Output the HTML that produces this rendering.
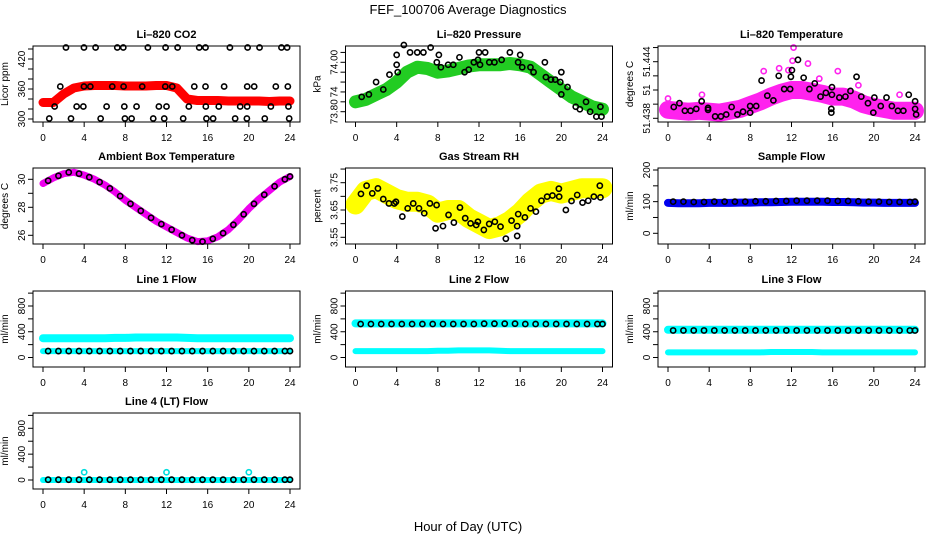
<!DOCTYPE html>
<html><head><meta charset="utf-8"><style>
body{margin:0;background:#fff}
svg{display:block;font-family:"Liberation Sans",sans-serif}
</style></head><body>
<svg id="chart" width="936" height="540" viewBox="0 0 936 540" xmlns="http://www.w3.org/2000/svg">
<rect width="936" height="540" fill="#fff"/>
<text x="468" y="14" font-size="13" text-anchor="middle">FEF_100706  Average Diagnostics</text>
<text x="468" y="531" font-size="13" text-anchor="middle">Hour of Day (UTC)</text>
</svg>
<script>
// ---------- data ----------
const hours = [0,1,2,3,4,5,6,7,8,9,10,11,12,13,14,15,16,17,18,19,20,21,22,23,24];
const halfHours = [0.5,1.5,2.5,3.5,4.5,5.5,6.5,7.5,8.5,9.5,10.5,11.5,12.5,13.5,14.5,15.5,16.5,17.5,18.5,19.5,20.5,21.5,22.5,23.5,24];
const xTicks = [0,4,8,12,16,20,24];

const co2Red = [333,333,350,362,366,367,367,367,366,366,366,367,367,362,340,337,337,337,336,336,336,336,335,336,336];
const co2BlackX = [2.23,3.98,5.11,7.22,7.8,10.19,11.91,13.08,15.18,15.79,18.16,19.88,21.04,23.17,23.72,
 1.68,3.98,4.6,6.73,7.83,9.64,11.88,12.56,14.7,15.79,17.6,19.84,20.52,22.62,23.79,
 1.13,3.27,3.92,6.18,7.9,9.09,11.26,12.0,14.17,15.82,17.08,19.16,19.84,22.14,23.85,
 0.61,2.72,5.6,7.96,8.61,10.71,11.78,13.62,15.88,16.53,18.67,19.81,21.55,23.92];
const co2BlackY = [443,443,443,443,443,443,443,443,443,443,443,443,443,443,443,
 365,365,365,365,365,365,365,365,365,365,365,365,365,365,365,
 325,325,325,325,325,325,325,325,325,325,325,325,325,325,325,
 301,301,301,301,301,301,301,301,301,301,301,301,301,301];

const presGreen = [73.84,73.85,73.87,73.89,73.92,73.96,73.98,73.975,73.96,73.965,73.975,73.985,73.99,73.99,73.99,73.995,73.99,73.98,73.95,73.92,73.89,73.86,73.84,73.82,73.81];
const presBlackX = [0.6,1.3,2,2.7,3.3,4,4,4.1,4.7,5.3,6,6.6,7.3,7.9,8.1,8.3,9,9.5,10.1,10.6,11,11.5,11.9,12,12.1,12.6,13,13.5,14.2,15,15.8,16,16.2,17,17.3,18.4,18.5,19,19.4,19.9,20,20,20.6,21.4,21.8,22.4,22.8,23.4,23.8,23.9];
const presBlackY = [73.86,73.87,73.92,73.89,73.95,74.03,73.99,73.96,74.07,74.04,74.04,74.04,74.06,74.00,74.03,73.98,73.99,73.99,74.02,73.96,73.97,74.00,74.01,74.04,73.99,74.04,74.00,74.00,74.01,74.04,74.00,74.03,73.98,73.98,73.96,74.00,73.94,73.93,73.93,73.92,73.96,73.87,73.90,73.82,73.81,73.84,73.80,73.78,73.82,73.78];

const tempPink = [51.4389,51.4388,51.4387,51.4388,51.4387,51.4386,51.4388,51.4390,51.4394,51.4398,51.4403,51.4407,51.4410,51.4410,51.4408,51.4406,51.4403,51.4403,51.4400,51.4395,51.4392,51.4390,51.4388,51.4388,51.4388];
const tempPinkOutX = [12.2,12.1,13.6,9.3,16.5,11.7,14.7,18.5,0,3.3,22.5,10.8];
const tempPinkOutY = [51.4455,51.4441,51.4438,51.4430,51.4430,51.4431,51.4422,51.4415,51.4401,51.4405,51.4405,51.4433];
const tempBlackX = [0.56,1.11,1.64,2.19,2.75,3.27,3.89,3.89,4.58,5.14,5.66,6.18,6.74,7.29,7.98,7.98,8.57,9.09,9.65,10.24,10.76,11.29,11.87,11.94,12.04,12.63,13.18,13.74,14.26,14.82,15.34,15.93,15.93,15.87,15.87,16.65,17.24,17.73,18.32,18.78,19.43,19.95,20.05,20.67,21.23,21.75,22.34,22.87,23.39,24.01,24.01,24.11];
const tempBlackY = [51.4392,51.4396,51.4388,51.4388,51.4390,51.4398,51.4389,51.4391,51.4382,51.4382,51.4384,51.4392,51.4384,51.4387,51.4393,51.4386,51.4393,51.4420,51.4404,51.4399,51.4425,51.4411,51.4411,51.4424,51.4431,51.4442,51.4423,51.4411,51.4417,51.4403,51.4407,51.4413,51.4405,51.4390,51.4386,51.4402,51.4403,51.4409,51.4424,51.4403,51.4396,51.4386,51.4402,51.4393,51.4402,51.4393,51.4388,51.4388,51.4405,51.4398,51.4390,51.4384];

const ambMagenta = [29.7,30.1,30.4,30.5,30.3,30.0,29.6,29.1,28.5,28.0,27.5,27.0,26.6,26.2,25.8,25.55,25.6,25.9,26.4,27.1,27.9,28.6,29.2,29.8,30.2];
const ambBlack = [29.9,30.25,30.5,30.4,30.15,29.8,29.35,28.8,28.25,27.75,27.25,26.8,26.4,26.0,25.65,25.55,25.75,26.15,26.75,27.5,28.25,28.9,29.5,30.0,30.2];

const rhYellow = [3.67,3.72,3.73,3.71,3.69,3.68,3.68,3.67,3.64,3.65,3.65,3.62,3.60,3.58,3.59,3.61,3.64,3.68,3.71,3.72,3.71,3.72,3.73,3.73,3.73];
const rhBlackX = [0.53,1.08,1.63,2.18,2.7,3.25,3.77,3.93,4.55,5.07,5.61,6.17,6.68,7.23,7.78,7.88,8.5,9.04,9.56,10.15,10.66,11.18,11.73,11.89,12.47,12.99,13.54,14.09,14.61,15.16,15.71,15.71,15.81,16.46,17.01,17.53,18.07,18.62,19.14,19.76,19.79,20.44,20.99,21.54,22.06,22.61,23.16,23.74,23.8];
const rhBlackY = [3.709,3.739,3.711,3.729,3.690,3.674,3.674,3.680,3.626,3.656,3.674,3.656,3.638,3.674,3.583,3.668,3.591,3.632,3.604,3.659,3.620,3.601,3.595,3.607,3.577,3.599,3.607,3.589,3.545,3.611,3.591,3.555,3.635,3.623,3.656,3.644,3.684,3.699,3.703,3.728,3.699,3.650,3.683,3.705,3.677,3.684,3.699,3.739,3.696];

const sampleBlue = [96,95,95,95,96,96,96,97,97,98,98,99,100,100,100,100,99,99,98,97,97,96,96,96,96];
const sampleBlack = [100,100,99,99,100,100,100,100,101,101,102,102,103,103,103,103,102,102,101,100,100,99,99,99,100];

const line1CyanHigh = [300,300,300,300,300,300,300,305,305,310,310,310,310,310,305,300,300,300,300,300,300,300,300,300,300];
const line1CyanLow = [100,100,100,100,100,100,100,100,100,100,100,100,100,100,100,100,100,100,100,100,100,100,100,100,100];
const line1Black = [100,100,100,100,100,100,100,100,100,100,100,100,100,100,100,100,100,100,100,100,100,100,100,100,100];

const line2CyanHigh = [530,530,530,530,530,530,530,530,530,530,530,530,530,530,530,530,530,530,530,530,530,530,530,530,530];
const line2CyanLow = [100,100,100,100,100,100,100,100,105,105,110,110,110,110,105,100,100,100,100,100,100,100,100,100,100];
const line2Black = [520,520,520,520,520,520,520,520,520,520,520,520,525,525,525,525,520,520,520,520,520,520,520,520,520];

const line3CyanHigh = [430,430,430,430,430,430,430,430,430,430,430,430,430,430,430,430,430,430,430,430,430,430,430,430,430];
const line3CyanLow = [80,80,80,80,80,80,80,80,80,80,85,85,85,85,85,80,80,80,80,80,80,80,80,80,80];
const line3Black = [420,420,420,420,420,420,420,420,420,420,420,420,420,420,420,420,420,420,420,420,420,420,420,420,420];

const line4Cyan = [0,0,0,0,0,0,0,0,0,0,0,0,0,0,0,0,0,0,0,0,0,0,0,0,0];
const line4SpikeX = [4,12,20];
const line4SpikeY = [120,120,120];
const line4Black = [5,5,5,5,5,5,5,5,5,5,5,5,5,5,5,5,5,5,5,5,5,5,5,5,5];

const co2Ticks = [300,320,340,360,380,400,420,440];
const co2Labels = ["300","","","360","","","420",""];
const presTicks = [73.80,73.84,73.88,73.92,73.96,74.00,74.04];
const presLabels = ["73.80","","74","","","74.00",""];
const tempTicks = [51.4380,51.4395,51.4410,51.4425,51.4440,51.4455];
const tempLabels = ["51.438","","51","","51.444",""];
const ambTicks = [26,27,28,29,30];
const ambLabels = ["26","","28","","30"];
const rhTicks = [3.55,3.60,3.65,3.70,3.75,3.80];
const rhLabels = ["3.55","","3.65","","3.75",""];
const sampleTicks = [0,50,100,150,200];
const sampleLabels = ["0","","100","","200"];
const flowTicks = [0,200,400,600,800,1000];
const flowLabels = ["0","","400","","800",""];

// ---------- drawing ----------
const svg = document.getElementById('chart');
const NS = 'http://www.w3.org/2000/svg';
function mk(tag, attrs, parent){
  const e = document.createElementNS(NS, tag);
  for (const k in attrs) e.setAttribute(k, attrs[k]);
  (parent||svg).appendChild(e);
  return e;
}
const colLeft = [33, 345.5, 658];
const rowTop = [46, 168, 291, 413];
const W = 267, H = 76;

function panel(col,row,name,title,ylab,v0,off0,v1,off1,ticks,labels){
  const g = mk('g',{});
  
  
  const L = colLeft[col], T = rowTop[row];
  const xs = h => L + 10 + h * (W - 20) / 24;
  const ys = v => T + off0 + (v - v0) * (off1 - off0) / (v1 - v0);
  const t = mk('text',{x:L+W/2,y:T-8,'font-size':11,'font-weight':'bold','text-anchor':'middle'},g);
  t.textContent = title;
  
  
  const yl = mk('text',{x:0,y:0,'font-size':10,'text-anchor':'middle',transform:`translate(${L-25},${T+H/2}) rotate(-90)`},g);
  yl.textContent = ylab;
  
  
  const plot = mk('g',{},g);
  
  
  const box = mk('rect',{x:L,y:T,width:W,height:H,fill:'none',stroke:'#000','stroke-width':1},g);
  
  
  xTicks.forEach(h=>{
    mk('line',{x1:xs(h),x2:xs(h),y1:T+H,y2:T+H+5,stroke:'#000'},g);
    const lt = mk('text',{x:xs(h),y:T+H+19,'font-size':10,'text-anchor':'middle'},g);
    lt.textContent = h;
    
    
  });
  ticks.forEach((v,i)=>{
    mk('line',{x1:L-5,x2:L,y1:ys(v),y2:ys(v),stroke:'#000'},g);
    if (labels[i]) {
      const lt = mk('text',{x:0,y:0,'font-size':10,'text-anchor':'middle',transform:`translate(${L-8},${ys(v)}) rotate(-90)`},g);
      lt.textContent = labels[i];
      
      
    }
  });
  return {xs, ys, g: plot};
}
function band(p, xsArr, vals, color, width, name){
  const pts = vals.map((v,i)=>p.xs(xsArr[i]).toFixed(1)+','+p.ys(v).toFixed(1)).join(' ');
  const pl = mk('polyline',{points:pts,fill:'none',stroke:color,'stroke-width':width,'stroke-linejoin':'round','stroke-linecap':'round'},p.g);
  
  
}
function dots(p, xsArr, vals, color, name){
  vals.forEach((v,i)=>{
    const c = mk('circle',{cx:p.xs(xsArr[i]),cy:p.ys(v),r:2.6,fill:'none',stroke:color,'stroke-width':1.6},p.g);
    
    
  });
}

let p;
p = panel(0,0,'co2-panel','Li\u2013820 CO2','Licor ppm',300,73,440,3,co2Ticks,co2Labels);
band(p,hours,co2Red,'#ff0000',9,'co2-series');
dots(p,co2BlackX,co2BlackY,'#000','co2-point');

p = panel(1,0,'pressure-panel','Li\u2013820 Pressure','kPa',73.80,65.7,74.00,16.3,presTicks,presLabels);
band(p,hours,presGreen,'#22cc22',13,'pressure-series');
dots(p,presBlackX,presBlackY,'#000','pressure-point');

p = panel(2,0,'temperature-panel','Li\u2013820 Temperature','degrees C',51.438,72.3,51.444,15.7,tempTicks,tempLabels);
band(p,hours,tempPink,'#ff22ee',18,'temperature-series');
dots(p,tempPinkOutX,tempPinkOutY,'#ff22ee','temperature-outlier');
dots(p,tempBlackX,tempBlackY,'#000','temperature-point');

p = panel(0,1,'ambient-panel','Ambient Box Temperature','degrees C',26,67.3,30,11.3,ambTicks,ambLabels);
band(p,hours,ambMagenta,'#ee00ee',7,'ambient-series');
dots(p,halfHours,ambBlack,'#000','ambient-point');

p = panel(1,1,'rh-panel','Gas Stream RH','percent',3.55,69.3,3.75,14.7,rhTicks,rhLabels);
band(p,hours,rhYellow,'#ffff00',20,'rh-series');
dots(p,rhBlackX,rhBlackY,'#000','rh-point');

p = panel(2,1,'sample-flow-panel','Sample Flow','ml/min',0,65.3,200,2,sampleTicks,sampleLabels);
band(p,hours,sampleBlue,'#0000ee',8,'sample-flow-series');
dots(p,halfHours,sampleBlack,'#000','sample-flow-point');

p = panel(0,2,'line1-panel','Line 1 Flow','ml/min',0,66.5,800,15,flowTicks,flowLabels);
band(p,hours,line1CyanHigh,'#00ffff',8,'line1-high-series');
band(p,hours,line1CyanLow,'#00ffff',6,'line1-low-series');
dots(p,halfHours,line1Black,'#000','line1-point');

p = panel(1,2,'line2-panel','Line 2 Flow','ml/min',0,66.5,800,15,flowTicks,flowLabels);
band(p,hours,line2CyanHigh,'#00ffff',8,'line2-high-series');
band(p,hours,line2CyanLow,'#00ffff',6,'line2-low-series');
dots(p,halfHours,line2Black,'#000','line2-point');

p = panel(2,2,'line3-panel','Line 3 Flow','ml/min',0,66.5,800,15,flowTicks,flowLabels);
band(p,hours,line3CyanHigh,'#00ffff',8,'line3-high-series');
band(p,hours,line3CyanLow,'#00ffff',6,'line3-low-series');
dots(p,halfHours,line3Black,'#000','line3-point');

p = panel(0,3,'line4-panel','Line 4 (LT) Flow','ml/min',0,67,800,15.3,flowTicks,flowLabels);
band(p,hours,line4Cyan,'#00ffff',6,'line4-series');
dots(p,line4SpikeX,line4SpikeY,'#00dddd','line4-spike');
dots(p,halfHours,line4Black,'#000','line4-point');
</script>
</body></html>
